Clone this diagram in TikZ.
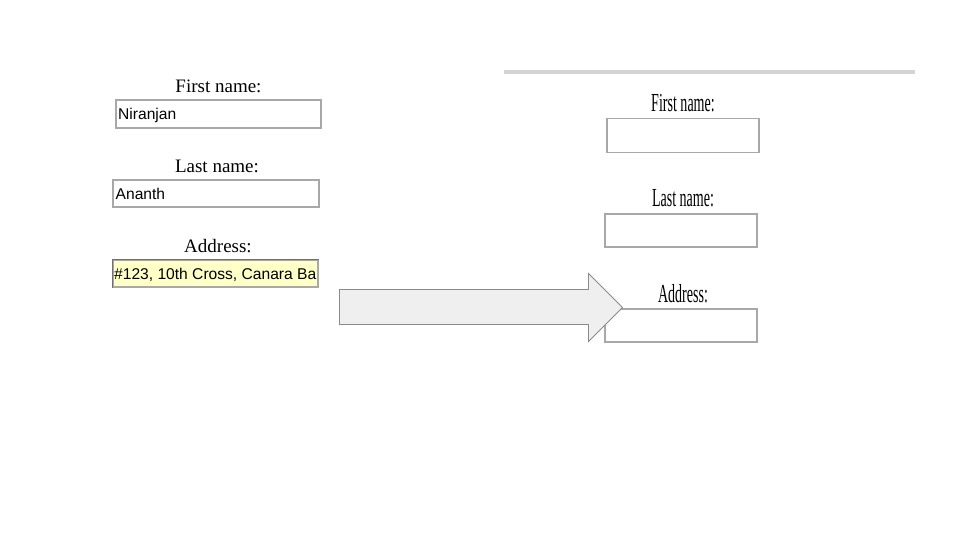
\documentclass[tikz,border=0pt]{standalone}
\usepackage{fontspec}
\setmainfont{Liberation Serif}
\newfontfamily\inputfont{Liberation Sans}
\usetikzlibrary{positioning}
\definecolor{boxline}{HTML}{A8A8A8}
\definecolor{boxdark}{HTML}{707070}
\definecolor{addrfill}{HTML}{FFFFC8}
\definecolor{arrowfill}{HTML}{EFEFEF}
\definecolor{arrowline}{HTML}{8A8A8A}
\definecolor{rule}{HTML}{D4D4D4}
\tikzset{
  lbl/.style={anchor=base, inner sep=0pt, font=\fontsize{19}{19}\selectfont, text=black},
  rlbl/.style={anchor=base, inner sep=0pt, text=black},
  field/.style={draw=boxline, line width=1.4pt, fill=white, inner sep=0pt},
  intext/.style={anchor=base west, inner sep=0pt, font=\inputfont\fontsize{15.6}{15.6}\selectfont, text=black}
}
\newcommand{\condensed}[1]{\scalebox{0.54}[1]{\fontsize{26}{26}\selectfont #1}}
\begin{document}
\begin{tikzpicture}[x=1pt,y=-1pt]
\useasboundingbox (0,0) rectangle (960,540);
\fill[white] (0,0) rectangle (960,540);

% ---- left form ----
\node[lbl] (lf) at (218.5,93) {First name:};
\node[field, minimum width=205pt, minimum height=28pt] (lfb) at (218.5,114) {};
\node[intext] (lft) at (118,119.5) {Niranjan};

\node[lbl] (ll) at (217,172.5) {Last name:};
\node[field, minimum width=206pt, minimum height=27pt] (llb) at (216,193.5) {};
\node[intext] (llt) at (115.5,199.5) {Ananth};

\node[lbl] (la) at (218,252.5) {Address:};
\node[field, fill=addrfill, minimum width=205pt, minimum height=27pt] (lab) at (215.5,273.5) {};
\draw[boxdark, line width=1.4pt] (lab.south west) -- (lab.north west) -- (lab.north east);
\begin{scope}
\clip (lab.south west) rectangle (lab.north east);
\node[intext] (lat) at (114,279.5) {\#123, 10th Cross, Canara Ba};
\end{scope}

% ---- right form ----
\coordinate (r1) at (504,72);
\coordinate (r2) at (915,72);
\draw[rule, line width=3.5pt] (r1) -- (r2);

\node[rlbl] (rf) at (683,111.5) {\condensed{First name:}};
\node[field, minimum width=152pt, minimum height=34pt] (rfb) at (683,135.5) {};

\node[rlbl] (rl) at (683,206.5) {\condensed{Last name:}};
\node[field, minimum width=152pt, minimum height=33pt] (rlb) at (681,230.5) {};

\node[rlbl] (ra) at (683,302.5) {\condensed{Address:}};
\node[field, minimum width=152pt, minimum height=33pt] (rab) at (681,325.5) {};

% ---- block arrow ----
\draw[draw=arrowline, fill=arrowfill, line width=0.9pt, line join=miter]
  (339.5,289.5) -- (588.5,289.5) -- (588.5,273.5) -- (622.5,307.5)
  -- (588.5,341.5) -- (588.5,324.5) -- (339.5,324.5) -- cycle;
\end{tikzpicture}
\end{document}
